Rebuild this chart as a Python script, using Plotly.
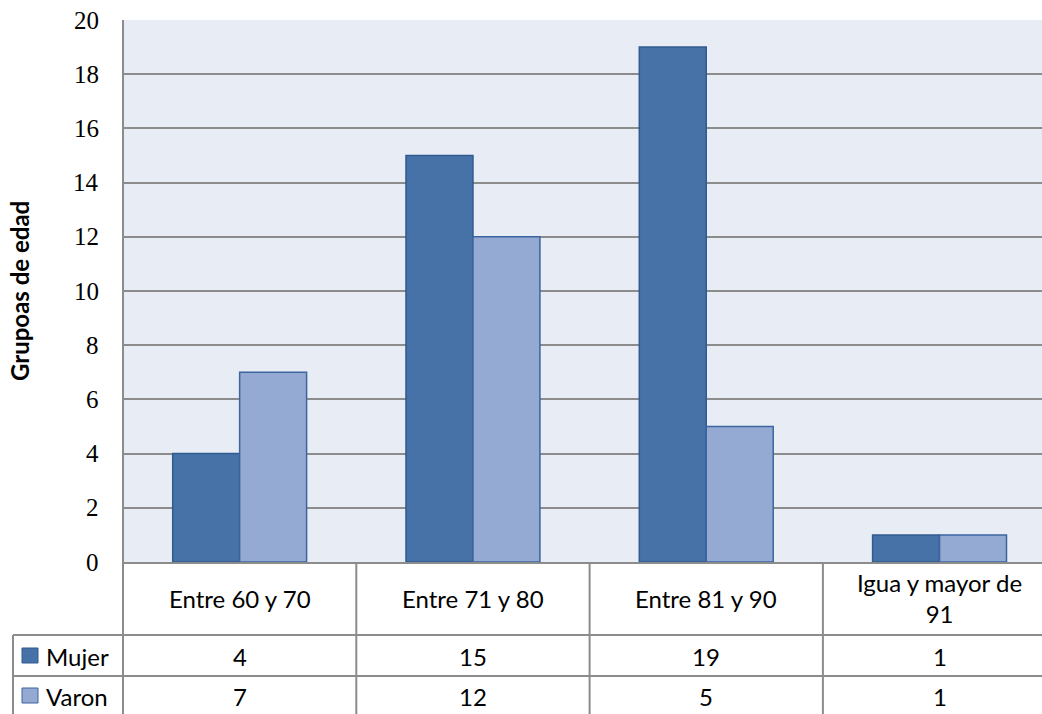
import plotly.graph_objects as go

# Age groups and counts per sex
categorias = ["Entre 60 y 70", "Entre 71 y 80", "Entre 81 y 90", "Igua y mayor de 91"]
etiquetas_tabla = ["Entre 60 y 70", "Entre 71 y 80", "Entre 81 y 90", "Igua y mayor de<br>91"]
mujer = [4, 15, 19, 1]
varon = [7, 12, 5, 1]
series = [("Mujer", mujer), ("Varon", varon)]
y_ticks = [0, 2, 4, 6, 8, 10, 12, 14, 16, 18, 20]

W, H = 1042, 714
L, T, B = 123, 20, 152  # margins in px
PW, PH = W - L, H - T - B

fill = {"Mujer": "#4672A7", "Varon": "#95AAD3"}
edge = {"Mujer": "#2F5B91", "Varon": "#3B64A0"}
grid = "#8C8C8C"
table_font = dict(family="Lato", size=24, color="#000000")
serif_font = dict(family="Liberation Serif", size=25, color="#000000")


def px_x(p):
    return (p - L) / PW


def px_y(p):
    return (H - B - p) / PH


fig = go.Figure()
for name, vals in series:
    fig.add_trace(go.Bar(
        name=name, x=list(range(len(categorias))), y=vals,
        marker=dict(color=fill[name], line=dict(color=edge[name], width=1.5)),
        hoverinfo="x+y",
    ))

# category width is 233 px; the last column runs past the right edge
cat_w = 233.3
x_max = -0.5 + PW / cat_w

shapes = []
line = dict(color=grid, width=2)
# left border of plot and table
shapes.append(dict(type="line", xref="paper", yref="paper", x0=0, x1=0,
                   y0=1, y1=px_y(720), line=line))
# table row separators
for yp in (635, 676, 717):
    shapes.append(dict(type="line", xref="paper", yref="paper",
                       x0=px_x(13), x1=1, y0=px_y(yp), y1=px_y(yp), line=line))
# legend column left edge
shapes.append(dict(type="line", xref="paper", yref="paper", x0=px_x(13), x1=px_x(13),
                   y0=px_y(635), y1=px_y(720), line=line))
# column separators between categories
for i in range(1, len(categorias)):
    shapes.append(dict(type="line", xref="x", yref="paper", x0=i - 0.5, x1=i - 0.5,
                       y0=0, y1=px_y(720), line=line))
# legend keys
for (name, _), (y0, y1) in zip(series, [(648, 663), (688, 703)]):
    shapes.append(dict(type="rect", xref="paper", yref="paper",
                       x0=px_x(22), x1=px_x(38), y0=px_y(y1), y1=px_y(y0),
                       fillcolor=fill[name], line=dict(color=edge[name], width=1)))

annotations = []
# value-axis labels, placed on the y scale
for v in y_ticks:
    annotations.append(dict(x=px_x(101), y=v, xref="paper", yref="y", text=str(v),
                            showarrow=False, font=serif_font,
                            xanchor="right", yanchor="middle"))
for i, lab in enumerate(etiquetas_tabla):
    annotations.append(dict(x=i, y=px_y(598), xref="x", yref="paper", text=lab,
                            showarrow=False, font=table_font, xanchor="center",
                            yanchor="middle", align="center"))
for (name, vals), yc in zip(series, (656, 696)):
    annotations.append(dict(x=px_x(44), y=px_y(yc), xref="paper", yref="paper",
                            text=name, showarrow=False, font=table_font,
                            xanchor="left", yanchor="middle"))
    for i, v in enumerate(vals):
        annotations.append(dict(x=i, y=px_y(yc), xref="x", yref="paper", text=str(v),
                                showarrow=False, font=table_font,
                                xanchor="center", yanchor="middle"))
annotations.append(dict(x=px_x(19), y=0.5, xref="paper", yref="paper",
                        text="<b>Grupoas de edad</b>", textangle=-90, showarrow=False,
                        font=dict(family="Lato", size=24, color="#000000"),
                        xanchor="center", yanchor="middle"))

fig.update_layout(
    width=W, height=H,
    margin=dict(l=L, r=0, t=T, b=B, pad=0),
    paper_bgcolor="#FFFFFF", plot_bgcolor="#E8ECF5",
    barmode="group", bargap=0.426, bargroupgap=0,
    showlegend=False,
    shapes=shapes, annotations=annotations,
    xaxis=dict(range=[-0.5, x_max], showticklabels=False, showgrid=False,
               zeroline=False, showline=True, linecolor=grid, linewidth=2,
               ticks="", fixedrange=True),
    yaxis=dict(range=[0, 20], tickmode="array", tickvals=y_ticks,
               showticklabels=False,
               showgrid=True, gridcolor=grid, gridwidth=2, zeroline=False,
               showline=False, ticks="", fixedrange=True),
)

fig.write_html("out.html")
